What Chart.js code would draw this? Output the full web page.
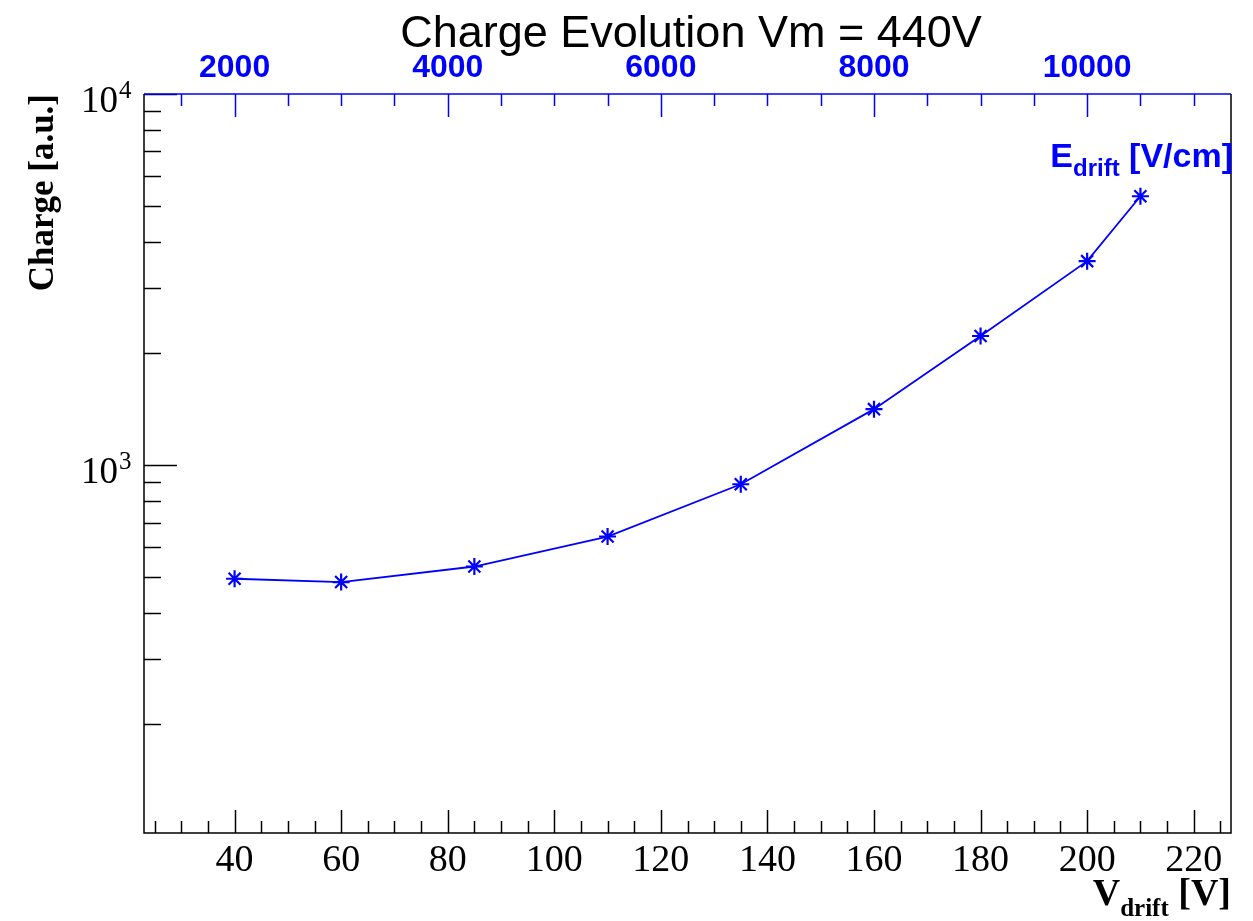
<!DOCTYPE html>
<html>
<head>
<meta charset="utf-8">
<script src="https://cdn.jsdelivr.net/npm/chart.js@4.4.1/dist/chart.umd.min.js"></script>
<style>
  html, body { margin: 0; padding: 0; background: #ffffff; }
  #wrap { width: 1253px; height: 921px; position: relative; }
</style>
</head>
<body>
<div id="wrap"><canvas id="c"></canvas></div>
<script>
// ---- data ----
const vDrift = [40, 60, 85, 110, 135, 160, 180, 200, 210];
const charge = [494, 484, 533, 642, 888, 1415, 2228, 3545, 5303];

// ---- axis definitions ----
const xRange = [23, 227];                 // V_drift [V]
const eRange = [1150, 11350];             // E_drift [V/cm] (top axis)
const yRange = [102, 10000];              // Charge [a.u.] (log)
const xMajorTicks = [40, 60, 80, 100, 120, 140, 160, 180, 200, 220];
const xMinorStep = 5;
const eMajorTicks = [2000, 4000, 6000, 8000, 10000];
const eMinorStep = 500;
const yMajorTicks = [1000, 10000];
const yMajorExp = ['3', '4'];
const yMinorTicks = [200, 300, 400, 500, 600, 700, 800, 900, 2000, 3000, 4000, 5000, 6000, 7000, 8000, 9000];

const titleText = 'Charge Evolution Vm = 440V';
const BLUE = '#0000ff';
const SERIF = '"Liberation Serif", "Times New Roman", serif';
const SANS = '"Liberation Sans", Arial, Helvetica, sans-serif';

const rootAxes = {
  id: 'rootAxes',
  beforeDatasetsDraw(chart) {
    const ctx = chart.ctx;
    const a = chart.chartArea;
    const xs = chart.scales.x, es = chart.scales.x2, ys = chart.scales.y;
    ctx.save();
    ctx.lineCap = 'butt';
    // black frame (left, bottom, right)
    ctx.strokeStyle = '#000';
    ctx.lineWidth = 1.5;
    ctx.beginPath();
    ctx.moveTo(a.left, a.top);
    ctx.lineTo(a.left, a.bottom);
    ctx.lineTo(a.right, a.bottom);
    ctx.lineTo(a.right, a.top);
    ctx.stroke();
    // y ticks (inward)
    const yMajLen = 33, yMinLen = 17;
    ctx.beginPath();
    yMajorTicks.forEach(v => {
      const p = Math.round(ys.getPixelForValue(v)) + 0.5;
      ctx.moveTo(a.left, p); ctx.lineTo(a.left + yMajLen, p);
    });
    yMinorTicks.forEach(v => {
      const p = Math.round(ys.getPixelForValue(v)) + 0.5;
      ctx.moveTo(a.left, p); ctx.lineTo(a.left + yMinLen, p);
    });
    ctx.stroke();
    // bottom x ticks (inward)
    const xMajLen = 23, xMinLen = 12;
    ctx.beginPath();
    for (let v = Math.ceil(xRange[0] / xMinorStep) * xMinorStep; v <= xRange[1]; v += xMinorStep) {
      const p = Math.round(xs.getPixelForValue(v)) + 0.5;
      const len = xMajorTicks.includes(v) ? xMajLen : xMinLen;
      ctx.moveTo(p, a.bottom); ctx.lineTo(p, a.bottom - len);
    }
    ctx.stroke();
    // top blue axis line and ticks (inward)
    ctx.strokeStyle = BLUE;
    ctx.beginPath();
    ctx.moveTo(a.left, a.top); ctx.lineTo(a.right, a.top);
    for (let v = Math.ceil(eRange[0] / eMinorStep) * eMinorStep; v <= eRange[1]; v += eMinorStep) {
      const p = Math.round(es.getPixelForValue(v)) + 0.5;
      const len = eMajorTicks.includes(v) ? xMajLen : xMinLen;
      ctx.moveTo(p, a.top); ctx.lineTo(p, a.top + len);
    }
    ctx.stroke();
    ctx.restore();
  },
  afterDraw(chart) {
    const ctx = chart.ctx;
    const a = chart.chartArea;
    const xs = chart.scales.x, es = chart.scales.x2, ys = chart.scales.y;
    ctx.save();
    // Title
    ctx.fillStyle = '#000';
    ctx.font = '45px ' + SANS;
    ctx.textAlign = 'center';
    ctx.textBaseline = 'alphabetic';
    ctx.fillText(titleText, 691, 47);
    // bottom tick labels
    ctx.font = '38px ' + SERIF;
    ctx.textAlign = 'center';
    xMajorTicks.forEach(v => {
      ctx.fillText(String(v), xs.getPixelForValue(v), 871);
    });
    // top tick labels
    ctx.fillStyle = BLUE;
    ctx.font = 'bold 32px ' + SANS;
    eMajorTicks.forEach(v => {
      ctx.fillText(String(v), es.getPixelForValue(v), 77);
    });
    // y labels 10^n
    ctx.fillStyle = '#000';
    yMajorTicks.forEach((v, i) => {
      const p = ys.getPixelForValue(v);
      ctx.font = '37px ' + SERIF;
      ctx.textAlign = 'right';
      ctx.fillText('10', 118, p + 18);
      ctx.font = '25px ' + SERIF;
      ctx.textAlign = 'left';
      ctx.fillText(yMajorExp[i], 119, p + 4);
    });
    // y title
    ctx.save();
    ctx.translate(53, a.top);
    ctx.rotate(-Math.PI / 2);
    ctx.font = 'bold 35px ' + SERIF;
    ctx.textAlign = 'right';
    ctx.fillText('Charge [a.u.]', 0, 0);
    ctx.restore();
    // x title: V_drift [V]
    ctx.textAlign = 'left';
    const bigX = 'bold 38px ' + SERIF, subX = 'bold 25px ' + SERIF;
    ctx.font = bigX; const wV = ctx.measureText('V').width;
    ctx.font = subX; const wD = ctx.measureText('drift').width;
    ctx.font = bigX; const wB = ctx.measureText(' [V]').width;
    let x0 = a.right - (wV + wD + wB);
    ctx.font = bigX; ctx.fillText('V', x0, 905);
    ctx.font = subX; ctx.fillText('drift', x0 + wV, 916);
    ctx.font = bigX; ctx.fillText(' [V]', x0 + wV + wD, 905);
    // top axis title: E_drift [V/cm]
    ctx.fillStyle = BLUE;
    const bigE = 'bold 34px ' + SANS, subE = 'bold 24px ' + SANS;
    ctx.font = bigE; const wE = ctx.measureText('E').width;
    ctx.font = subE; const wdE = ctx.measureText('drift').width;
    ctx.font = bigE; const wBE = ctx.measureText(' [V/cm]').width;
    x0 = a.right + 2 - (wE + wdE + wBE);
    ctx.font = bigE; ctx.fillText('E', x0, 167);
    ctx.font = subE; ctx.fillText('drift', x0 + wE, 176);
    ctx.font = bigE; ctx.fillText(' [V/cm]', x0 + wE + wdE, 167);
    ctx.restore();
  }
};

const points = vDrift.map((v, i) => ({ x: v, y: charge[i] }));

new Chart(document.getElementById('c'), {
  type: 'line',
  data: {
    datasets: [{
      label: 'Charge',
      data: points,
      borderColor: BLUE,
      backgroundColor: BLUE,
      borderWidth: 1.8,
      pointStyle: 'star',
      pointRadius: 8.5,
      pointBorderWidth: 2.2,
      pointBorderColor: BLUE,
      pointBackgroundColor: BLUE,
      tension: 0,
      fill: false,
      xAxisID: 'x',
      yAxisID: 'y'
    }]
  },
  options: {
    responsive: true,
    maintainAspectRatio: false,
    animation: false,
    layout: { padding: { left: 144, right: 22, top: 94, bottom: 88 } },
    plugins: { legend: { display: false }, tooltip: { enabled: false }, title: { display: false } },
    scales: {
      x: { type: 'linear', min: xRange[0], max: xRange[1], display: false },
      x2: { type: 'linear', position: 'top', min: eRange[0], max: eRange[1], display: false },
      y: { type: 'logarithmic', min: yRange[0], max: yRange[1], display: false }
    }
  },
  plugins: [rootAxes]
});
</script>
</body>
</html>
